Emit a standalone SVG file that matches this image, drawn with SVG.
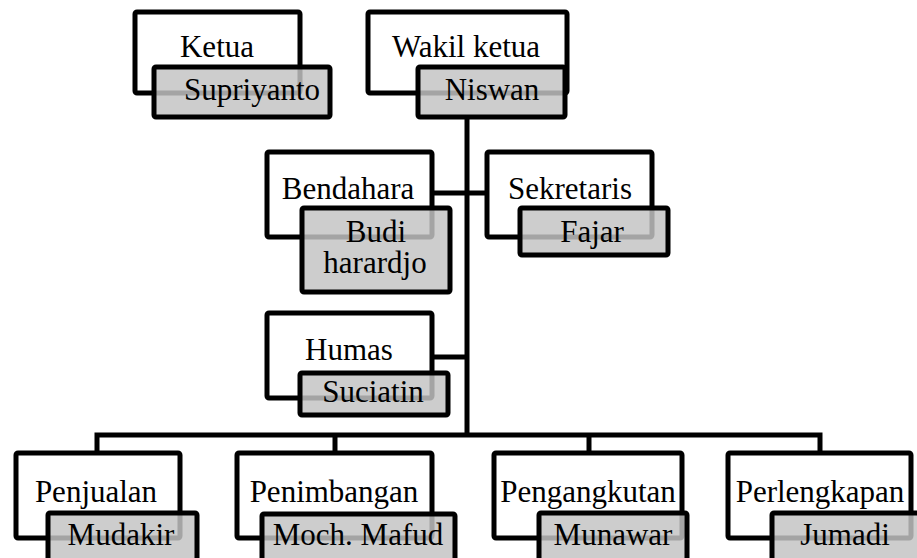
<svg xmlns="http://www.w3.org/2000/svg" width="917" height="558" viewBox="0 0 917 558" font-family="'Liberation Serif', 'DejaVu Serif', serif">
<style>
.w{fill:#ffffff;stroke:#000000;stroke-width:5;}
.g{fill:#c4c4c4;fill-opacity:0.84;stroke:#000000;stroke-width:5;}
.c{fill:none;stroke:#000000;stroke-width:5;}
.t{font-family:'Liberation Serif', 'DejaVu Serif', serif;font-size:31px;fill:#000000;text-anchor:middle;}
</style>
<rect width="917" height="558" fill="#ffffff"/>
<g id="connectors">
<path class="c" d="M467,117 V435"/>
<path class="c" d="M432,193 H487"/>
<path class="c" d="M432,357 H467"/>
<path class="c" d="M97,453 V435 H820 V453"/>
<path class="c" d="M335,435 V453"/>
<path class="c" d="M589,435 V453"/>
</g>
<g id="ketua">
<rect class="w" x="135" y="12" width="165" height="81" rx="2"/>
<rect class="g" x="154" y="67" width="176" height="50" rx="2"/>
<text class="t" x="217" y="57">Ketua</text>
<text class="t" x="252" y="100">Supriyanto</text>
</g>
<g id="wakil">
<rect class="w" x="368" y="12" width="199" height="81" rx="2"/>
<rect class="g" x="418" y="67" width="147" height="50" rx="2"/>
<text class="t" x="466" y="57">Wakil ketua</text>
<text class="t" x="492" y="100">Niswan</text>
</g>
<g id="bendahara">
<rect class="w" x="267" y="152" width="165" height="85" rx="2"/>
<rect class="g" x="302" y="208" width="148" height="84" rx="2"/>
<text class="t" x="348" y="199">Bendahara</text>
<text class="t" x="376" y="242">Budi</text>
<text class="t" x="375" y="273">harardjo</text>
</g>
<g id="sekretaris">
<rect class="w" x="487" y="152" width="165" height="85" rx="2"/>
<rect class="g" x="520" y="208" width="148" height="47" rx="2"/>
<text class="t" x="570" y="199">Sekretaris</text>
<text class="t" x="592" y="242">Fajar</text>
</g>
<g id="humas">
<rect class="w" x="267" y="313" width="165" height="85" rx="2"/>
<rect class="g" x="300" y="373" width="148" height="42" rx="2"/>
<text class="t" x="349" y="360">Humas</text>
<text class="t" x="373" y="402">Suciatin</text>
</g>
<g id="penjualan">
<rect class="w" x="16" y="453" width="164" height="85" rx="2"/>
<rect class="g" x="48" y="513" width="149" height="60" rx="2"/>
<text class="t" x="96" y="502">Penjualan</text>
<text class="t" x="121" y="545">Mudakir</text>
</g>
<g id="penimbangan">
<rect class="w" x="237" y="453" width="195" height="85" rx="2"/>
<rect class="g" x="262" y="514" width="193" height="60" rx="2"/>
<text class="t" x="334" y="502">Penimbangan</text>
<text class="t" x="358" y="545">Moch. Mafud</text>
</g>
<g id="pengangkutan">
<rect class="w" x="494" y="453" width="188" height="85" rx="2"/>
<rect class="g" x="539" y="513" width="148" height="60" rx="2"/>
<text class="t" x="588" y="502">Pengangkutan</text>
<text class="t" x="613" y="545">Munawar</text>
</g>
<g id="perlengkapan">
<rect class="w" x="728" y="453" width="183" height="85" rx="2"/>
<rect class="g" x="772" y="513" width="150" height="60" rx="2"/>
<text class="t" x="820" y="502">Perlengkapan</text>
<text class="t" x="845" y="545">Jumadi</text>
</g>
</svg>
